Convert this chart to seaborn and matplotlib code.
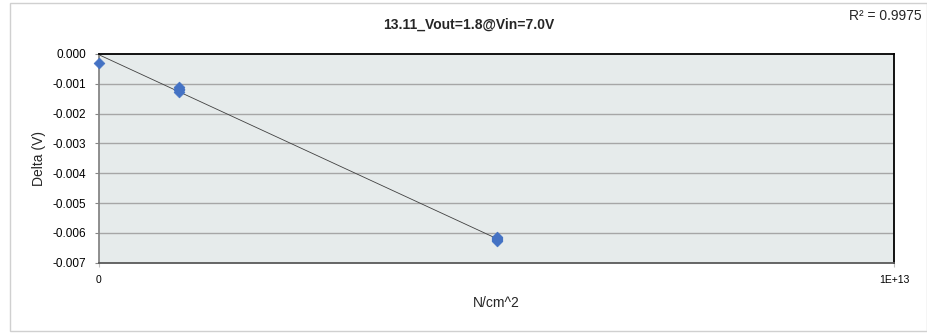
import numpy as np
import pandas as pd
import matplotlib
matplotlib.use("Agg")
import matplotlib.pyplot as plt
import seaborn as sns
from matplotlib.patches import Rectangle
from matplotlib.ticker import FuncFormatter

# Data
x_vals = [0,
          1.0e12, 1.0e12, 1.0e12, 1.0e12, 1.0e12,
          5.0e12, 5.0e12, 5.0e12, 5.0e12, 5.0e12]
delta_vals = [-0.00030,
              -0.00112, -0.00116, -0.00119, -0.00122, -0.00126,
              -0.00613, -0.00617, -0.00620, -0.00623, -0.00628]
title = "13.11_Vout=1.8@Vin=7.0V"
r2_text = "R² = 0.9975"
y_ticks = [0.000, -0.001, -0.002, -0.003, -0.004, -0.005, -0.006, -0.007]
x_ticks = [0, 1e13]
x_tick_labels = ["0", "1E+13"]

df = pd.DataFrame({"x": x_vals, "delta": delta_vals})

sns.set_theme(style="white")
plt.rcParams["font.family"] = ["Liberation Sans", "DejaVu Sans"]
plt.rcParams["axes.unicode_minus"] = False

W, H = 928, 333
fig = plt.figure(figsize=(W/100, H/100), dpi=100)
left, right, top, bottom = 99, 894, 54, 262.7
ax = fig.add_axes([left/W, 1-bottom/H, (right-left)/W, (bottom-top)/H])
ax.set_facecolor("#E6EBEB")

for yt in y_ticks[1:-1]:
    ax.axhline(yt, color="#A6A6A6", linewidth=1.0, zorder=0)

sns.regplot(data=df, x="x", y="delta", scatter=False, ci=None, ax=ax,
            line_kws=dict(color="#404040", linewidth=0.6), truncate=True)
sns.scatterplot(data=df, x="x", y="delta", marker="D", s=30, color="#4472C4",
                edgecolor="#4472C4", linewidth=0.5, ax=ax, zorder=3, clip_on=False)

ax.set_xlim(0, 1e13)
ax.set_ylim(-0.007, 0.0)
ax.set_yticks(y_ticks)
ax.yaxis.set_major_formatter(FuncFormatter(lambda v, p: f"{v:.3f}" if abs(v) > 1e-9 else "0.000"))
ax.set_xticks(x_ticks)
ax.set_xticklabels(x_tick_labels)
ax.tick_params(axis="y", labelsize=8.5, labelcolor="#000000", color="#868686",
               length=3, width=0.8, direction="out", left=True, pad=6)
ax.tick_params(axis="x", labelsize=7.5, labelcolor="#000000", color="#BFBFBF",
               length=3, width=0.8, direction="out", bottom=True, pad=6)
ax.set_xlabel("N/cm^2", fontsize=10)
ax.set_ylabel("Delta (V)", fontsize=10)
ax.xaxis.set_label_coords((496-left)/(right-left), -(296-bottom)/(bottom-top))
ax.yaxis.set_label_coords((46.5-left)/(right-left), 0.5)
for side in ["top", "right", "left", "bottom"]:
    ax.spines[side].set_visible(True)
    ax.spines[side].set_linewidth(1.3)
ax.spines["top"].set_color("#000000")
ax.spines["right"].set_color("#000000")
ax.spines["left"].set_color("#868686")
ax.spines["bottom"].set_color("#595959")

fig.text(469/W, 1-25/H, title, fontsize=10, fontweight="bold", ha="center", va="center")
fig.text(922/W, 1-15.7/H, r2_text, fontsize=10, ha="right", va="center")

fig.patches.append(Rectangle((10/W, 2/H), 917/W, 328/H, transform=fig.transFigure,
                             fill=False, edgecolor="#D0D0D0", linewidth=1.0))

fig.savefig("out.png", dpi=100)
